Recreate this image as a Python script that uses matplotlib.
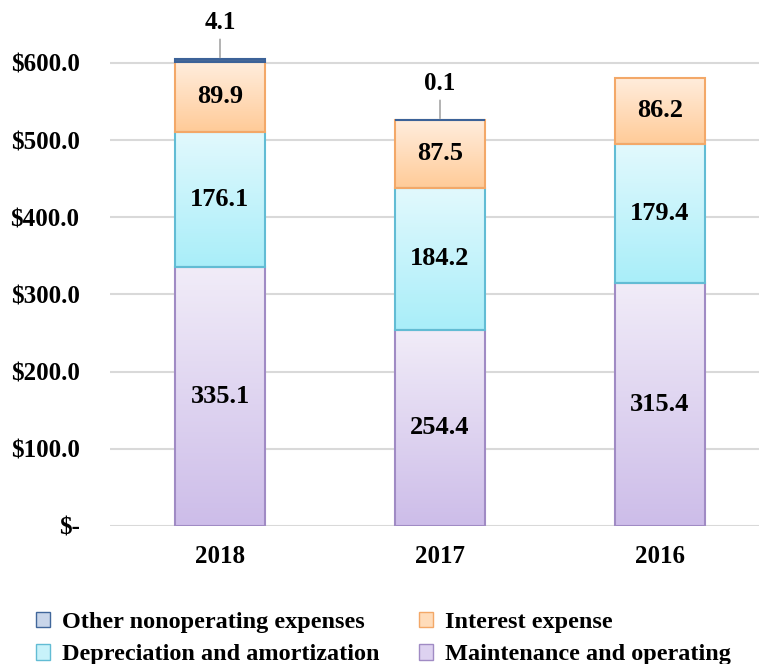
import numpy as np
import matplotlib.pyplot as plt
from matplotlib.patches import Patch
from matplotlib.colors import LinearSegmentedColormap

plt.rcParams["font.family"] = ["Liberation Serif", "DejaVu Serif"]
plt.rcParams["font.weight"] = "bold"

years = ["2018", "2017", "2016"]
maintenance = [335.1, 254.4, 315.4]
depreciation = [176.1, 184.2, 179.4]
interest = [89.9, 87.5, 86.2]
other = [4.1, 0.1, 0.0]

tick_vals = [0, 100, 200, 300, 400, 500, 600]
tick_labels = ["$-", "$100.0", "$200.0", "$300.0", "$400.0", "$500.0", "$600.0"]

# (name, values, top colour, bottom colour, edge colour)
series = [
    ("Maintenance and operating", maintenance, "#f1ecf8", "#cdbde9", "#a08bc4"),
    ("Depreciation and amortization", depreciation, "#e2f9fd", "#a9eef9", "#62bcd4"),
    ("Interest expense", interest, "#ffeddd", "#ffcb98", "#f3a868"),
    ("Other nonoperating expenses", other, "#41679b", "#41679b", "#3c6298"),
]

fig = plt.figure(figsize=(7.59, 6.64), dpi=100)
ax = fig.add_axes([110 / 759, 138 / 664, 660 / 759, 660 * 0.7717 / 664])

x = np.arange(len(years))
width = 0.41
bottom = np.zeros(len(years))
grad = np.linspace(0, 1, 100).reshape(-1, 1)

for name, vals, c_top, c_bot, c_edge in series:
    vals = np.array(vals)
    bars = ax.bar(x, vals, width, bottom=bottom, facecolor="none",
                  edgecolor=c_edge, linewidth=1.5, zorder=3)
    cmap = LinearSegmentedColormap.from_list(name, [c_top, c_bot])
    for rect, v, b in zip(bars, vals, bottom):
        if v <= 0:
            rect.set_visible(False)
            continue
        im = ax.imshow(grad, cmap=cmap, aspect="auto", zorder=2,
                       extent=[rect.get_x(), rect.get_x() + rect.get_width(), b, b + v])
        im.set_clip_path(rect)
    if name == "Other nonoperating expenses":
        for xi, v, b in zip(x, vals, bottom):
            if v <= 0:
                continue
            top = b + v
            ax.annotate(f"{v:.1f}", xy=(xi, top + 2), xytext=(0, 17),
                        textcoords="offset points", ha="center", va="bottom",
                        fontsize=18, fontweight="bold",
                        arrowprops=dict(arrowstyle="-", color="#a6a6a6", lw=1.2,
                                        shrinkA=2, shrinkB=0))
    else:
        for xi, v, b in zip(x, vals, bottom):
            ax.text(xi, b + v / 2, f"{v:.1f}", ha="center", va="center",
                    fontsize=19, fontweight="bold", zorder=4)
    bottom = bottom + vals

ax.set_xlim(-0.5, 2.5)
ax.set_ylim(0, 660)
ax.set_yticks(tick_vals)
ax.set_yticklabels(tick_labels)
ax.set_xticks(x)
ax.set_xticklabels(years)
ax.grid(axis="y", color="#d9d9d9", linewidth=1.5, zorder=0)
ax.tick_params(length=0, labelsize=18, pad=14)
ax.tick_params(axis="y", pad=22)
for s in ax.spines.values():
    s.set_visible(False)

handles = [
    Patch(facecolor="#c9d6ea", edgecolor="#41679b", label="Other nonoperating expenses"),
    Patch(facecolor="#c8f2fa", edgecolor="#62bcd4", label="Depreciation and amortization"),
    Patch(facecolor="#ffdcba", edgecolor="#f3a868", label="Interest expense"),
    Patch(facecolor="#ddd2f0", edgecolor="#a08bc4", label="Maintenance and operating"),
]
fig.legend(handles=handles, ncol=2, loc="lower left", bbox_to_anchor=(0.018, -0.035),
           frameon=False, fontsize=17.5, handlelength=0.6, handleheight=0.6,
           handletextpad=0.5, columnspacing=1.6, labelspacing=0.45)

fig.savefig("out.png", dpi=100)
